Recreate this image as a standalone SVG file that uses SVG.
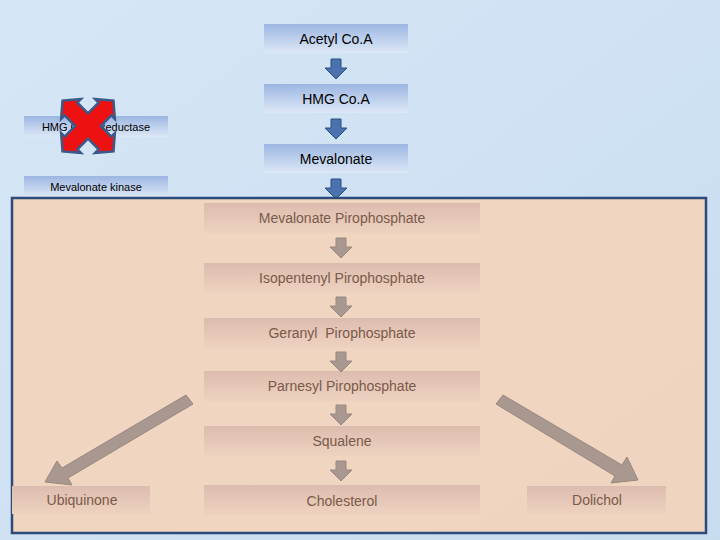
<svg xmlns="http://www.w3.org/2000/svg" width="720" height="540" viewBox="0 0 720 540">
<defs>
<linearGradient id="bg" x1="0" y1="0" x2="1" y2="1"><stop offset="0" stop-color="#d6e6f6"/><stop offset="1" stop-color="#c8dcf0"/></linearGradient>
<linearGradient id="bb" x1="0" y1="0" x2="0" y2="1"><stop offset="0" stop-color="#9cb6e2"/><stop offset="1" stop-color="#dde8f6"/></linearGradient>
<linearGradient id="pb" x1="0" y1="0" x2="0" y2="1"><stop offset="0" stop-color="#dcbcae"/><stop offset="1" stop-color="#eed2c0"/></linearGradient>
<style>
.t{font-family:"Liberation Sans",Arial,sans-serif;text-anchor:middle}
.bt{fill:#000;font-size:14px}
.st{fill:#000;font-size:11px}
.pt{fill:#7a5a4a;font-size:14px}
.ba{fill:#4a72ae;stroke:#2c4e80;stroke-width:1}
.ga{fill:#a89890;stroke:#988880;stroke-width:1}
</style>
<g id="ga"><path id="da" d="M-5,0 H5 V9 H11 L0,20 L-11,9 H-5 Z"/></g>
</defs>
<rect width="720" height="540" fill="url(#bg)"/>
<g id="acetyl"><rect x="264" y="24" width="144" height="29" fill="url(#bb)"/><text class="t bt" x="336" y="44">Acetyl Co.A</text></g>
<g id="hmg"><rect x="264" y="84" width="144" height="29" fill="url(#bb)"/><text class="t bt" x="336" y="104">HMG Co.A</text></g>
<g id="mev"><rect x="264" y="144" width="144" height="29" fill="url(#bb)"/><text class="t bt" x="336" y="164">Mevalonate</text></g>
<g id="hmgred"><rect x="24" y="116" width="144" height="21" fill="url(#bb)"/><text class="t st" x="96" y="131">HMG Co.A Reductase</text></g>
<g id="mevk"><rect x="24" y="176" width="144" height="21" fill="url(#bb)"/><text class="t st" x="96" y="191">Mevalonate kinase</text></g>
<g id="xmark" transform="translate(88,126) rotate(45)"><path d="M-9,-24 H-14 L0,-36 L14,-24 H9 V-9 H24 V-14 L36,0 L24,14 V9 H9 V24 H14 L0,36 L-14,24 H-9 V9 H-24 V14 L-36,0 L-24,-14 V-9 H-9 Z" fill="#ee1111" stroke="#3a5a8a" stroke-width="2.5"/></g>
<g id="connectors-top">
<use href="#da" class="ba" transform="translate(336,59)"/>
<use href="#da" class="ba" transform="translate(336,119)"/>
<use href="#da" class="ba" transform="translate(336,179)"/>
</g>
<rect x="12" y="198" width="694" height="335" fill="#f2d4bc" fill-opacity="0.93" stroke="#2c4a7a" stroke-width="2.5"/>
<g id="mpp"><rect x="204" y="203" width="276" height="30" fill="url(#pb)"/><text class="t pt" x="342" y="223">Mevalonate Pirophosphate</text></g>
<g id="ipp"><rect x="204" y="263" width="276" height="30" fill="url(#pb)"/><text class="t pt" x="342" y="283">Isopentenyl Pirophosphate</text></g>
<g id="gpp"><rect x="204" y="318" width="276" height="30" fill="url(#pb)"/><text class="t pt" x="342" y="338">Geranyl&#160; Pirophosphate</text></g>
<g id="fpp"><rect x="204" y="371" width="276" height="30" fill="url(#pb)"/><text class="t pt" x="342" y="391">Parnesyl Pirophosphate</text></g>
<g id="sq"><rect x="204" y="426" width="276" height="30" fill="url(#pb)"/><text class="t pt" x="342" y="446">Squalene</text></g>
<g id="chol"><rect x="204" y="485" width="276" height="30" fill="url(#pb)"/><text class="t pt" x="342" y="506">Cholesterol</text></g>
<g id="ubi"><rect x="12" y="486" width="138" height="28" fill="url(#pb)"/><text class="t pt" x="82" y="505">Ubiquinone</text></g>
<g id="doli"><rect x="527" y="486" width="139" height="28" fill="url(#pb)"/><text class="t pt" x="597" y="505">Dolichol</text></g>
<g id="connectors">
<use href="#da" class="ga" transform="translate(341,238)"/>
<use href="#da" class="ga" transform="translate(341,297)"/>
<use href="#da" class="ga" transform="translate(341,352)"/>
<use href="#da" class="ga" transform="translate(341,405)"/>
<use href="#da" class="ga" transform="translate(341,461)"/>
<path class="ga" d="M186,395 L193,404 L68,478 L72,485 L45,482 L57,461 L62,468 Z"/>
<path class="ga" d="M503,395 L496,404 L615,476 L611,483 L638,480 L627,457 L622,465 Z"/>
</g>
</svg>
